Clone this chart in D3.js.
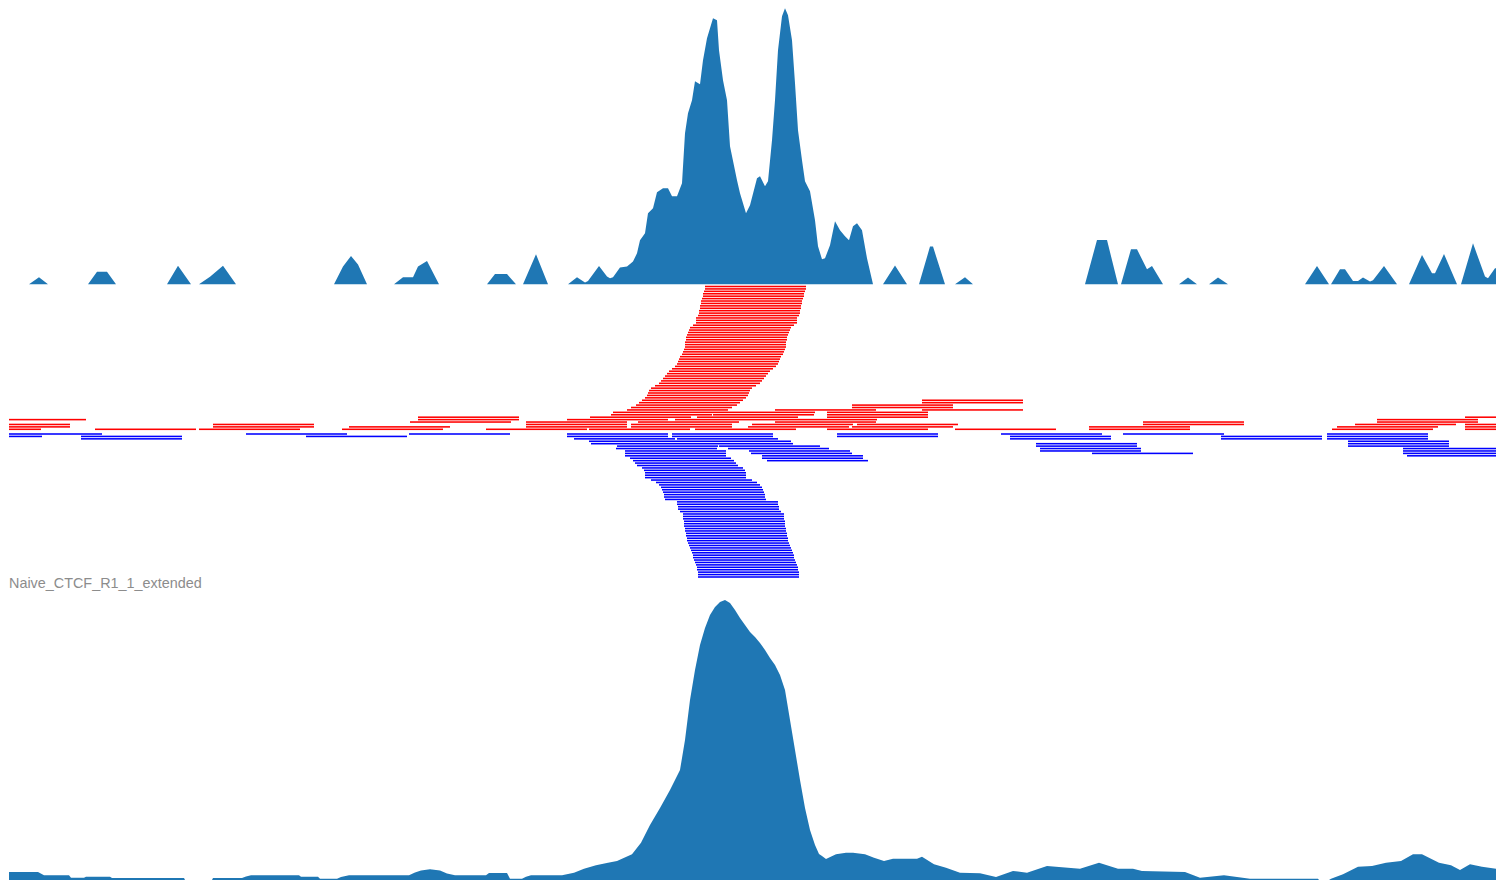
<!DOCTYPE html>
<html><head><meta charset="utf-8">
<script src="https://cdn.jsdelivr.net/npm/d3@7"></script>
<style>html,body{margin:0;padding:0;background:#fff;overflow:hidden}</style>
</head><body>
<svg id="chart" width="1499" height="888"></svg>
<script>
// ---------- DATA ----------
const READ_LENGTH = 101;
const regionLength = 1487;
const trackLabels = ["Naive_CTCF_R1_1_extended"];

// raw read coverage (top track) : [position, signal]
const topCoverage = [
 [0,0],[20,0],[30,7],[39,0],[79,0],[88,12.6],[98,12.6],[107,0],[158,0],[169,18.6],[182,0],
 [190,0],[201,7.6],[214,18.6],[227,0],[325,0],[334,17.7],[342,28.3],[349,19.7],[358,0],
 [385,0],[394,7],[404,7],[409,17.7],[418,23.3],[430,0],[478,0],[486,10.3],[498,10.3],[507,0],
 [514,0],[527,30],[539,0],
 [559,0],[568,7],[576,1.7],[579,3.3],[590,18.3],[598,7.7],[601,6],[604,7],[611,16.7],[618,17.7],
 [624,22.7],[628,31],[631,44],[636,51],[639,71],[644,76],[648,92],[654,96],[659,96],[663,88],
 [668,88],[673,101],[676,151],[679,171],[683,184],[686,203],[691,200],[694,224],[698,246],
 [704,266],[708,264],[710,234],[714,204],[718,184],[721,138],[728,104],[731,91],[737,71],
 [741,79],[748,106],[751,108],[756,98],[759,103],[763,144],[766,184],[769,234],[773,268],
 [776,276],[779,269],[783,244],[786,201],[789,154],[793,124],[796,103],[801,93],[806,64],
 [809,38],[813,25],[816,26],[821,39],[826,63],[831,54],[836,48],[840,44],[844,58],[848,61],
 [853,54],[858,26],[864,0],
 [874,0],[886,18.7],[898,0],[910,0],[921,37.7],[924,37.7],[936,0],[946,0],[956,7],[964,0],
 [1076,0],[1088,44.3],[1098,44.3],[1109,0],[1112,0],[1122,35],[1128,35],[1138,15],[1143,18.3],[1154,0],
 [1170,0],[1179,6.7],[1188,0],[1200,0],[1209,6.7],[1219,0],[1296,0],[1308,18.3],[1320,0],
 [1322,0],[1331,15],[1336,15],[1344,3.3],[1349,3.3],[1354,6.7],[1361,2.7],[1364,4],[1375,18.3],[1388,0],
 [1400,0],[1413,29.3],[1423,11],[1426,11],[1435,30.3],[1448,0],[1452,0],[1464,41],[1476,7.7],
 [1479,6],[1486,16],[1487,16]
];

// extended read coverage (bottom track) : [position, signal]
const extendedCoverage = [
 [0,8],[29,8],[35,4.7],[60,4.7],[62,2.3],[75,2.3],[77,3.3],[101,3.3],[103,2],[175,2],[176,0],
 [203,0],[204,2],[233,2],[237,3.5],[242,4.7],[290,4.7],[292,3.3],[309,3.3],[311,1.3],[328,1.3],
 [332,3],[340,4.7],[400,4.7],[406,7.5],[412,9.5],[421,10.7],[431,9.5],[438,6.5],[446,4.7],
 [477,4.7],[480,7],[498,7],[501,1.3],[513,1.3],[517,3.3],[522,4.7],[553,4.7],[565,7.3],
 [575,11.3],[587,14.7],[599,17.3],[608,19],[623,25.7],[632,37.3],[641,55],[651,72],[661,90],
 [671,110],[676,140],[681,180],[686,210],
 [691,235],[696,252],[701,265],[706,273],[711,278],[716,280],[721,277],[726,270],[731,262],
 [736,255],[741,248],[746,243],[751,237],[756,230],[761,222],[766,215],[771,205],[776,190],
 [781,160],[786,130],[791,100],[796,72],[801,50],[806,35],[810,26],[813,24],[817,21],
 [827,25.7],[837,27.3],[844,27.3],[856,25.7],[865,22.3],[875,19],[884,21.3],[908,21.3],
 [913,23.3],[925,15.7],[937,12.3],[951,7.3],[971,6.7],[987,3],[1004,9],[1018,7.3],[1038,14],
 [1071,11.3],[1090,17.3],[1109,11.3],[1124,11.3],[1133,9],[1176,8],[1191,2.3],[1215,4.7],
 [1241,1.3],[1309,1.3],[1310,0],[1320,0],[1322,1.3],[1334,5.7],[1349,13.3],[1363,14],
 [1377,17.3],[1392,19],[1404,25.7],[1413,25.7],[1430,17.3],[1442,14.7],[1451,10],[1461,15.7],
 [1473,13.3],[1487,11.3]
];

// forward-strand reads : [start, pileup row]
const forwardReads = [
 [-69,0],[86,0],[190,0],[333,0],[477,0],[580,0],[686,0],[818,0],[946,0],[1080,0],[1323,0],[1456,0],
 [-40,1],[204,1],[340,1],[517,1],[622,1],[739,1],[843,1],[1080,1],[1328,1],[1456,1],
 [-40,2],[204,2],[517,2],[622,2],[743,2],[848,2],[1134,2],[1346,2],[1456,2],
 [401,3],[517,3],[629,3],[766,3],[1134,3],[1368,3],
 [-24,4],[409,4],[558,4],[666,4],[767,4],[1368,4],
 [409,5],[581,5],[688,5],[818,5],[1456,5],
 [602,6],[704,6],[818,6],
 [604,7],[705,7],[818,7],
 [618,8],[766,8],[913,8],
 [622,9],[843,9],
 [627,10],[843,10],
 [630,11],[913,11],
 [633,12],[913,12],
 [636,13],[638,14],[639,15],[640,16],[642,17],[646,18],[650,19],[652,20],[654,21],[656,22],
 [658,23],[660,24],[663,25],[666,26],[668,27],[669,28],[670,29],[671,30],[673,31],[674,32],
 [675,33],[676,34],[676,35],[676,36],[677,37],[677,38],[678,39],[679,40],[680,41],[681,42],
 [684,43],[687,44],[687,45],[687,46],[689,47],[690,48],[690,49],[691,50],[691,51],[692,52],
 [692,53],[693,54],[694,55],[694,56],[695,57],[696,58],[696,59]
];

// reverse-strand reads : [start, pileup row]
const reverseReads = [
 [-8,0],[237,0],[400,0],[558,0],[663,0],[828,0],[992,0],[1114,0],[1318,0],
 [-68,1],[72,1],[297,1],[558,1],[663,1],[828,1],[1001,1],[1212,1],[1318,1],
 [72,2],[565,2],[668,2],[1001,2],[1212,2],[1318,2],
 [580,3],[681,3],[1339,3],
 [582,4],[683,4],[1027,4],[1339,4],
 [608,5],[710,5],[1027,5],[1339,5],
 [607,6],[719,6],[1031,6],[1394,6],
 [616,7],[740,7],[1031,7],[1394,7],
 [616,8],[742,8],[1083,8],[1394,8],
 [616,9],[753,9],[1398,9],
 [621,10],[753,10],
 [624,11],[758,11],
 [626,12],[628,13],[633,14],[635,15],[636,16],[636,17],[636,18],[642,19],[647,20],[650,21],
 [652,22],[653,23],[654,24],[655,25],[655,26],[656,27],[668,28],[668,29],[669,30],[669,31],
 [671,32],[674,33],[674,34],[674,35],[675,36],[675,37],[675,38],[676,39],[676,40],[677,41],
 [677,42],[678,43],[678,44],[679,45],[680,46],[681,47],[682,48],[683,49],[684,50],[684,51],
 [685,52],[686,53],[687,54],[688,55],[688,56],[689,57],[689,58],[689,59]
];

// ---------- CHART ----------
const svg = d3.select("#chart");
const x = d3.scaleLinear().domain([0, regionLength]).range([9, 1496]);
const yTop = d3.scaleLinear().domain([0, 276]).range([284.3, 8.3]);
const yBot = d3.scaleLinear().domain([0, 280]).range([880, 600]);
const yFwd = d3.scaleLinear().domain([0, 59]).range([429.3, 286.5]);
const yRev = d3.scaleLinear().domain([0, 59]).range([434, 577]);
const readH = 1.55;

svg.append("defs").append("clipPath").attr("id","clip")
  .append("rect").attr("x", x(0)).attr("y", 0)
  .attr("width", x(regionLength) - x(0)).attr("height", 888);

const plot = svg.append("g").attr("clip-path","url(#clip)");

const areaTop = d3.area().x(d => x(d[0])).y0(yTop(0)).y1(d => yTop(d[1]));
plot.append("path").datum(topCoverage).attr("d", areaTop).attr("fill", "#1f77b4");

const reads = plot.append("g");
reads.selectAll("rect.fwd").data(forwardReads).join("rect")
  .attr("class","fwd")
  .attr("x", d => x(d[0]))
  .attr("width", x(READ_LENGTH) - x(0))
  .attr("y", d => yFwd(d[1]) - readH/2)
  .attr("height", readH)
  .attr("fill", "#ff0000");

reads.selectAll("rect.rev").data(reverseReads).join("rect")
  .attr("class","rev")
  .attr("x", d => x(d[0]))
  .attr("width", x(READ_LENGTH) - x(0))
  .attr("y", d => yRev(d[1]) - readH/2)
  .attr("height", readH)
  .attr("fill", "#0000ff");

svg.append("text").text(trackLabels[0])
  .attr("x", 9).attr("y", 588)
  .attr("font-family", "Liberation Sans, Arial, sans-serif")
  .attr("font-size", 14.4).attr("fill", "#8c8c8c");

const areaBot = d3.area().x(d => x(d[0])).y0(yBot(0)).y1(d => yBot(d[1]));
plot.append("path").datum(extendedCoverage).attr("d", areaBot).attr("fill", "#1f77b4");
</script>
</body></html>
